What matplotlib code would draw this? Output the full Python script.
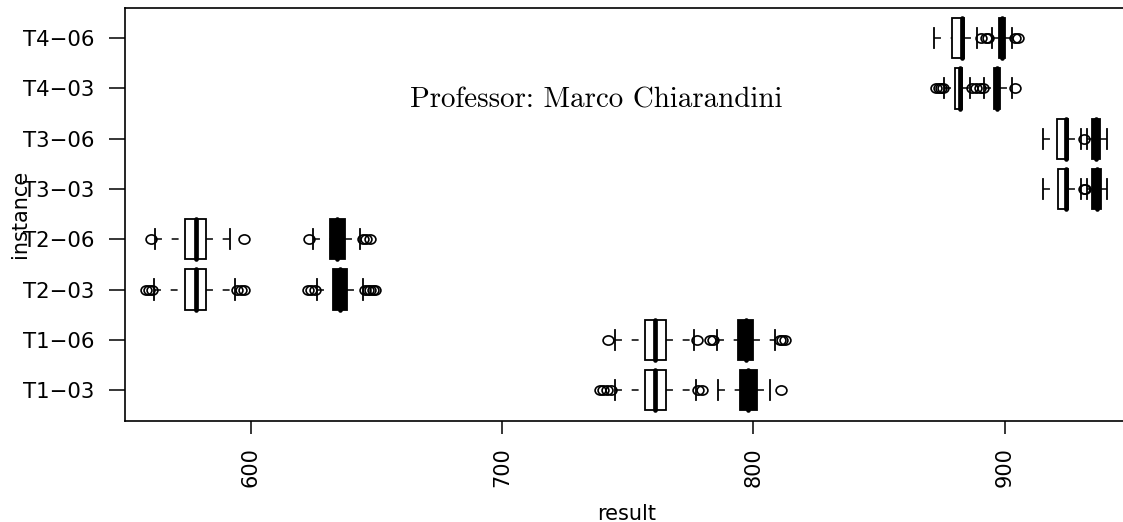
import numpy as np
import matplotlib
matplotlib.use("Agg")
import matplotlib.pyplot as plt
from matplotlib.path import Path
from matplotlib.transforms import Affine2D

# ---------------- data ----------------
instances = ["T1−03", "T1−06", "T2−03", "T2−06", "T3−03", "T3−06", "T4−03", "T4−06"]
x_ticks = [600, 700, 800, 900]

# first algorithm (white boxes)
a_whislo = [744.9, 744.9, 561.5, 561.8, 915.0, 915.0, 876.0, 871.8]
a_q1 = [757.0, 757.0, 574.0, 574.0, 921.0, 920.8, 880.1, 878.8]
a_med = [761.0, 761.0, 578.1, 578.1, 924.5, 924.5, 882.0, 883.0]
a_q3 = [765.3, 765.3, 582.2, 582.2, 925.2, 925.2, 882.8, 883.8]
a_whishi = [777.0, 776.5, 593.8, 591.8, 930.5, 930.5, 886.1, 889.0]
a_fliers = [
    [738.8, 740.3, 741.8, 743.2, 777.8, 779.5],
    [742.3, 777.6],
    [558.4, 559.5, 560.6, 594.5, 596.2, 597.2],
    [560.5, 597.3],
    [931.3, 932.0],
    [931.5],
    [872.7, 873.7, 874.7, 875.5, 887.0, 888.5, 890.0, 891.2],
    [890.5, 892.5],
]

# second algorithm (black boxes)
b_whislo = [786.0, 785.5, 626.5, 624.9, 932.5, 932.5, 891.7, 894.8]
b_q1 = [794.7, 793.9, 632.9, 631.5, 934.8, 934.8, 895.8, 897.8]
b_med = [798.0, 797.0, 635.5, 634.5, 936.5, 936.3, 897.0, 899.0]
b_q3 = [801.5, 799.9, 638.4, 637.5, 938.1, 937.8, 898.1, 900.0]
b_whishi = [806.5, 808.6, 644.5, 643.5, 940.5, 940.5, 902.7, 902.8]
b_fliers = [
    [811.1],
    [782.8, 784.0, 810.4, 811.5, 812.7],
    [622.8, 624.0, 625.5, 645.5, 646.5, 647.5, 648.5, 649.5],
    [623.0, 644.5, 646.0, 647.5],
    [],
    [],
    [904.0],
    [893.5, 904.0, 905.2],
]

title_text = "Professor: Marco Chiarandini"
x_label = "result"
y_label = "instance"


def make_stats(wlo, q1, med, q3, whi, fl):
    return [dict(whislo=a, q1=b, med=c, q3=d, whishi=e, fliers=np.array(f))
            for a, b, c, d, e, f in zip(wlo, q1, med, q3, whi, fl)]


stats_a = make_stats(a_whislo, a_q1, a_med, a_q3, a_whishi, a_fliers)
stats_b = make_stats(b_whislo, b_q1, b_med, b_q3, b_whishi, b_fliers)
positions = np.arange(1, len(instances) + 1)

plt.rcParams['font.family'] = ['DejaVu Sans']
plt.rcParams['lines.scale_dashes'] = False

fig = plt.figure(figsize=(11.23, 5.22), dpi=100)
ax = fig.add_axes([125 / 1123, 1 - 420.7 / 522, 1004 / 1123, 412.7 / 522])

# ellipse marker (the R circles appear slightly stretched horizontally)
ellipse = Path.unit_circle().transformed(Affine2D().scale(1.18, 1.0))


def draw(stats, face):
    out = ax.bxp(
        stats, positions=positions, widths=0.8, capwidths=0.4,
        orientation='horizontal', patch_artist=True, manage_ticks=False,
        boxprops=dict(facecolor=face, edgecolor='black', linewidth=1.3),
        whiskerprops=dict(color='black', linewidth=1.1, linestyle=(0, (5.0, 7.0))),
        capprops=dict(color='black', linewidth=1.3),
        medianprops=dict(color='black', linewidth=3.4, solid_capstyle='round'),
        flierprops=dict(marker=ellipse, markersize=7.8, markerfacecolor='none',
                        markeredgecolor='black', markeredgewidth=1.2, linestyle='none'),
    )
    # R draws the lower whisker from its end toward the box
    for ln in out['whiskers'][0::2]:
        ln.set_xdata(np.asarray(ln.get_xdata())[::-1])
    return out


draw(stats_a, 'white')
draw(stats_b, 'black')

ax.set_xlim(550, 949.4)
ax.set_ylim(0.39, 8.60)
ax.set_yticks(positions)
ax.set_yticklabels(instances)
ax.set_xticks(x_ticks)
ax.set_xticklabels([str(v) for v in x_ticks], rotation=90, va='top')

ax.tick_params(axis='y', length=11.5, width=1.1, pad=10.5, labelsize=15.3, colors='black')
ax.tick_params(axis='x', length=9.5, width=1.1, pad=9.5, labelsize=15.0, colors='black')
for sp in ax.spines.values():
    sp.set_linewidth(1.2)
    sp.set_color('black')

ax.set_xlabel(x_label, fontsize=15.0)
ax.set_ylabel(y_label, fontsize=15.0)
ax.xaxis.set_label_coords(0.5, -(504 - 420.7) / 412.7)
ax.yaxis.set_label_coords((30 - 125) / 1004, 0.5)

fig.text(596.5 / 1123, 1 - 107.3 / 522, title_text, ha='center', va='baseline',
         fontfamily='cmr10', fontsize=20.9)

fig.savefig("out.png", dpi=100)
